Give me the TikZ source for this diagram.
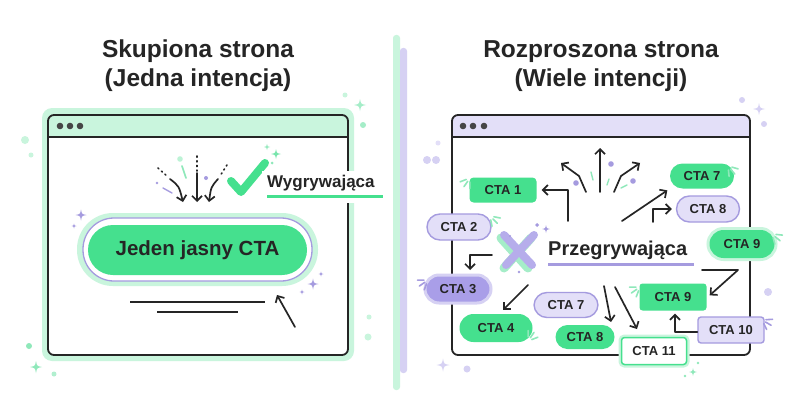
\documentclass[tikz,border=0pt]{standalone}
\usepackage{fontspec}
\setmainfont{Liberation Sans}
\usetikzlibrary{arrows.meta}
\definecolor{ink}{HTML}{252525}
\definecolor{grn}{HTML}{45E08E}
\definecolor{lgrn}{HTML}{C9F5DD}
\definecolor{mgrn}{HTML}{8FE8BA}
\definecolor{lav}{HTML}{E3DFF8}
\definecolor{lavb}{HTML}{A59BDF}
\definecolor{lavd}{HTML}{A99EE8}
\definecolor{lavp}{HTML}{D6D1F3}
\tikzset{
  spark/.pic={\fill[pic actions] (0,-1) .. controls (0.15,-0.15) .. (1,0) .. controls (0.15,0.15) .. (0,1) .. controls (-0.15,0.15) .. (-1,0) .. controls (-0.15,-0.15) .. cycle;},
  ticks/.pic={\foreach \a in {-34,0,34} \draw[pic actions, line width=1.6, line cap=round] (\a:4) -- (\a:10.5);},
  arr/.style={ink, line width=1.7, line cap=round, line join=round, -{Straight Barb[length=5pt,width=10pt]}},
  cta/.style={font=\bfseries\fontsize{13}{13}\selectfont, text=ink, inner sep=0, minimum height=26},
  gpill/.style={cta, fill=grn, rounded corners=13},
  lpill/.style={cta, fill=lav, draw=lavb, line width=1.4, rounded corners=13},
  ttl/.style={font=\bfseries\fontsize{24.5}{26}\selectfont, text=ink, anchor=base},
}
\begin{document}
\begin{tikzpicture}[x=1pt,y=-1pt]
\useasboundingbox (0,0) rectangle (800,420);
\fill[white] (0,0) rectangle (800,420);
% titles
\node[ttl] (t1) at (198,58) {Skupiona strona};
\node[ttl] (t2) at (198,86) {(Jedna intencja)};
\node[ttl] (t3) at (601,58) {Rozproszona strona};
\node[ttl] (t4) at (601,86) {(Wiele intencji)};
% divider
\fill[lgrn, rounded corners=3] (393,35) rectangle (400,390);
\fill[lavp, rounded corners=3] (400,48) rectangle (407,373);
% ===== left window =====
\fill[lgrn, rounded corners=10] (42,108) rectangle (354,361);
\fill[white, rounded corners=6] (48,115) rectangle (348,355);
\begin{scope}
\clip[rounded corners=6] (48,115) rectangle (348,355);
\fill[lgrn] (48,115) rectangle (348,137);
\end{scope}
\draw[ink, line width=1.8, rounded corners=6] (48,115) rectangle (348,355);
\draw[ink, line width=1.8] (48,137) -- (348,137);
\foreach \x in {60,70,80} \fill[ink!85] (\x,126) circle (3.3);
% button
\fill[lgrn, rounded corners=36] (77,213) rectangle (318,286);
\fill[white, draw=lavb, line width=1.3, rounded corners=31] (83,218) rectangle (312,281);
\node[cta, fill=grn, rounded corners=25, minimum width=219, minimum height=50, font=\bfseries\fontsize{20.5}{22}\selectfont] (btn) at (197.5,250) {Jeden jasny CTA};
\draw[ink, line width=1.8] (130,302) -- (265,302);
\draw[ink, line width=1.8] (157,312) -- (238,312);
\coordinate (curT) at (295,327);
\coordinate (curH) at (277,295);
\draw[arr] (curT) -- (curH);
% burst to button
\draw[ink, line width=1.6, dash pattern=on 1.2pt off 3.5pt, line cap=round] (197,156) -- (197,171);
\draw[arr] (197,173) -- (197,202);
\draw[ink, line width=1.6, dash pattern=on 1.2pt off 3.5pt, line cap=round] (158,168) -- (168,177);
\draw[arr] (170,179) .. controls (179,186) .. (183,202);
\draw[ink, line width=1.6, dash pattern=on 1.2pt off 3.5pt, line cap=round] (227,165) -- (220,176);
\draw[arr] (218,179) .. controls (211,187) .. (209,202);
\draw[lavb, line width=1.4, line cap=round] (163,188) -- (172,193);
\fill[lavb] (157,183) circle (1.3);
\draw[mgrn, line width=1.6, line cap=round] (182,166) -- (186,178);
\fill[lgrn!80!mgrn] (180,159) circle (2.8);
\fill[lavb] (206,178) circle (2);
% check mark
\draw[grn, line width=8, line cap=round, line join=round] (231,181) -- (241,192) -- (265,163);
\pic[mgrn!70!grn, scale=5] at (276,154) {spark};
\pic[mgrn, scale=3] at (267,147) {spark};
\fill[mgrn] (272,163) circle (1.5);
% winning label
\fill[white] (262,171) rectangle (386,203);
\node[font=\bfseries\fontsize{17}{18}\selectfont, text=ink, anchor=base west, inner sep=0] (win) at (267,187) {Wygrywająca};
\draw[grn, line width=3] (267,196) -- (383,196);
% left decorations
\pic[lavb, scale=5.5] at (81,215) {spark};
\pic[lavb, scale=2.5] at (74,226) {spark};
\pic[lavb, scale=5.5] at (313,284) {spark};
\pic[lavb, scale=2.5] at (321,274) {spark};
\pic[lavb, scale=2.5] at (302,292) {spark};
\fill[lgrn] (25,140) circle (4);
\fill[lgrn] (31,155) circle (2.5);
\fill[mgrn] (29,346) circle (3);
\pic[mgrn, scale=6] at (36,367) {spark};
\fill[mgrn!70] (54,374) circle (2.5);
\fill[lgrn] (345,95) circle (2.5);
\pic[mgrn!80, scale=6] at (360,105) {spark};
\fill[mgrn!80] (363,125) circle (3);
\fill[lgrn] (369,317) circle (2.5);
\fill[lgrn] (368,337) circle (3.5);
% ===== right window =====
\fill[white, rounded corners=6] (452,115) rectangle (750,355);
\begin{scope}
\clip[rounded corners=6] (452,115) rectangle (750,355);
\fill[lav] (452,115) rectangle (750,137);
\end{scope}
\draw[ink, line width=1.8, rounded corners=6] (452,115) rectangle (750,355);
\draw[ink, line width=1.8] (452,137) -- (750,137);
\foreach \x in {463,473,484} \fill[ink!85] (\x,126) circle (3.3);
% X mark
\draw[mgrn!80, line width=9, line cap=round] (501,238) -- (528,268) (531,238) -- (504,268);
\draw[lavd!85, line width=8, line cap=round] (504,235) -- (532,265) (534,235) -- (506,265);
\pic[lavb, scale=4] at (546,229) {spark};
\pic[lavb, scale=2] at (537,225) {spark};
\fill[lavb] (510,236) circle (1.2);
\fill[lavb] (519,272) circle (1.4);
\node[font=\bfseries\fontsize{20}{21}\selectfont, text=ink, anchor=base west, inner sep=0] (lose) at (548,255) {Przegrywająca};
\draw[lavb, line width=3] (548,264) -- (694,264);
% CTA nodes
\node[cta, fill=grn, rounded corners=4, minimum width=67, minimum height=25] (c1) at (503,190) {CTA 1};
\node[lpill, minimum width=64] (c2) at (459,227) {CTA 2};
\node[cta, fill=lavd, draw=lavp, line width=3, rounded corners=14, minimum width=66, minimum height=28] (c3) at (458,289) {CTA 3};
\node[gpill, minimum width=73, minimum height=28, rounded corners=14] (c4) at (496,328) {CTA 4};
\node[lpill, minimum width=64, minimum height=25] (c7b) at (566,305) {CTA 7};
\node[gpill, minimum width=59, minimum height=24, rounded corners=12] (c8b) at (585,337) {CTA 8};
\node[cta, fill=white, draw=grn, line width=1.5, rounded corners=3, minimum width=65, minimum height=27, preaction={draw=lgrn, line width=6}] (c11) at (654,351) {CTA 11};
\node[cta, fill=grn, rounded corners=3, minimum width=67, minimum height=27] (c9b) at (673,297) {CTA 9};
\node[cta, fill=lav, draw=lavb, line width=1.4, rounded corners=3, minimum width=66, minimum height=26] (c10) at (731,330) {CTA 10};
\node[gpill, minimum width=65, minimum height=28, rounded corners=14, preaction={draw=lgrn, line width=6}] (c9a) at (742,244) {CTA 9};
\node[gpill, minimum width=64, minimum height=25, rounded corners=12.5] (c7a) at (702,176) {CTA 7};
\node[lpill, minimum width=63] (c8a) at (708,209) {CTA 8};
% connectors
\coordinate (s1) at (568,221);
\draw[arr, shorten >=5] (s1) |- (c1.east);
\coordinate (b1) at (586,192); \coordinate (b1m) at (579,176); \coordinate (b1e) at (561,163);
\draw[arr] (b1) -- (b1m) -- (b1e);
\coordinate (b2) at (600,192); \coordinate (b2e) at (600,148);
\draw[arr] (b2) -- (b2e);
\coordinate (b3) at (614,192); \coordinate (b3m) at (621,176); \coordinate (b3e) at (640,163);
\draw[arr] (b3) -- (b3m) -- (b3e);
\coordinate (s7) at (622,221);
\draw[arr, shorten >=3] (s7) -- (c7a.south west);
\coordinate (s8) at (653,222);
\draw[arr, shorten >=4] (s8) |- (c8a.west);
\coordinate (s3) at (492,255); \coordinate (e3) at (470,270);
\draw[arr] (s3) -| (e3);
\coordinate (s4) at (528,285); \coordinate (e4) at (503,310);
\draw[arr] (s4) -- (e4);
\coordinate (s8b) at (604,286); \coordinate (e8b) at (611,322);
\draw[arr] (s8b) -- (e8b);
\coordinate (s11) at (615,287); \coordinate (e11) at (637,329);
\draw[arr] (s11) -- (e11);
\coordinate (s9) at (702,270); \coordinate (m9) at (738,270);
\draw[arr, shorten >=4] (s9) -- (m9) -- ([yshift=-1]c9b.east);
\draw[arr, shorten >=3] ([yshift=-2]c10.west) -| ([xshift=2]c9b.south);
% right decorations
\pic[mgrn, rotate=235] at (470,178) {ticks};
\pic[mgrn, rotate=-45] at (490,216) {ticks};
\pic[lavb, rotate=215] at (428,280) {ticks};
\pic[mgrn, rotate=55] at (528,341) {ticks};
\pic[mgrn, rotate=215] at (640,287) {ticks};
\pic[lavb, rotate=-30] at (762,320) {ticks};
\pic[mgrn, rotate=-40] at (772,234) {ticks};
\pic[mgrn, rotate=-50] at (728,166) {ticks};
\fill[lavb] (611,164) circle (2.8);
\fill[lavb] (576,183) circle (2.8);
\fill[lavb] (633,181) circle (2.8);
\draw[mgrn, line width=1.4, line cap=round] (591,172) -- (593,180);
\draw[mgrn, line width=1.4, line cap=round] (609,179) -- (607,185);
\draw[mgrn, line width=1.4, line cap=round] (621,188) -- (627,185);
\fill[lavp] (742,100) circle (3);
\pic[lavp, scale=6] at (759,109) {spark};
\fill[lavp] (764,124) circle (3);
\fill[lav] (438,143) circle (2.5);
\fill[lavp] (427,160) circle (4);
\fill[lavp] (436,160) circle (4);
\fill[lavp] (768,292) circle (4);
\pic[lavp, scale=6.5] at (443,365) {spark};
\fill[lavp] (467,369) circle (3.5);
\pic[mgrn, scale=4] at (693,372) {spark};
\fill[mgrn] (685,376) circle (1.3);
\fill[mgrn] (698,363) circle (1.3);
\end{tikzpicture}
\end{document}
